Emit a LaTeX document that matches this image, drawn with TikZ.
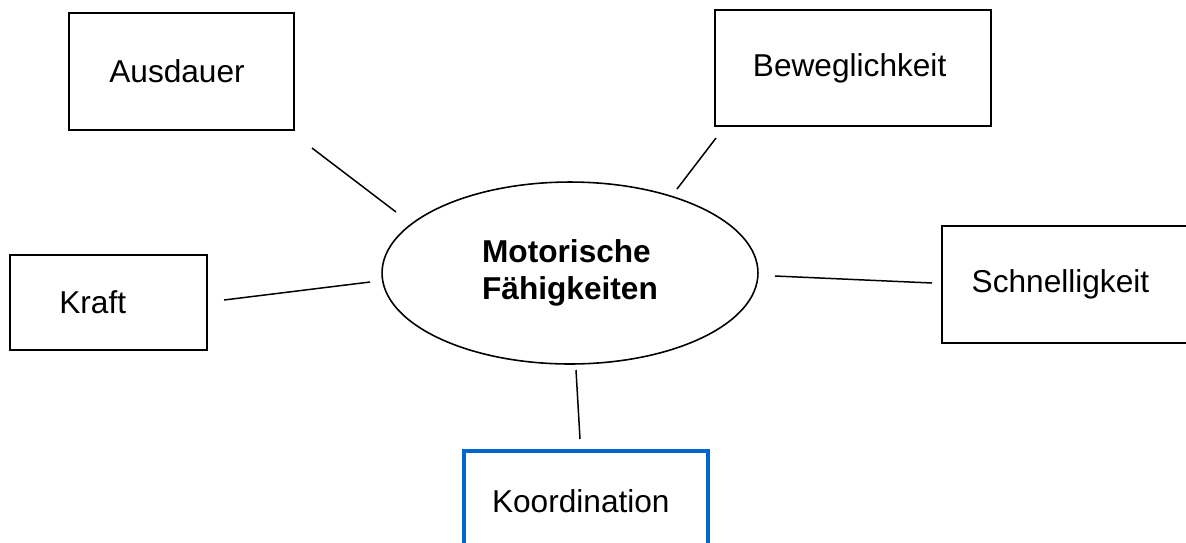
\documentclass[tikz,border=0pt]{standalone}
\usepackage{fontspec}
\setmainfont{Liberation Sans}
\usetikzlibrary{positioning,shapes.geometric}
\definecolor{rahmenblau}{RGB}{0,102,204}

\begin{document}
\begin{tikzpicture}[
  x=0.02cm,y=-0.02cm,
  every node/.style={font=\fontsize{18pt}{21pt}\selectfont},
  feld/.style={rectangle,draw,line width=1.1pt,align=left},
  blaufeld/.style={feld,draw=rahmenblau,line width=2.2pt},
  mitte/.style={ellipse,draw,line width=0.9pt,minimum width=7.52cm,minimum height=3.64cm,align=left,font=\fontsize{18pt}{21pt}\selectfont\bfseries},
  linie/.style={line width=0.85pt}
]
\clip (0,0) rectangle (1186,542);
\node[mitte] (mf) at (570,273) {Motorische\\Fähigkeiten};
\node[feld,left=3.46cm of mf,yshift=-0.59cm,text width=1.98cm,inner xsep=0.98cm,minimum height=1.9cm] (kraft) {Kraft};
\node[feld,above=2.46cm of kraft,xshift=1.46cm,text width=2.9cm,inner xsep=0.8cm,minimum height=2.34cm] (ausdauer) {Ausdauer};
\node[feld,above=1.08cm of mf,xshift=5.66cm,text width=4.0cm,inner xsep=0.76cm,minimum height=2.32cm] (beweg) {Beweglichkeit};
\node[feld,right=3.64cm of mf,yshift=-0.23cm,text width=3.9cm,inner xsep=0.6cm,minimum height=2.34cm] (schnell) {Schnelligkeit};
\node[blaufeld,below=1.68cm of mf,xshift=0.32cm,text width=3.76cm,inner xsep=0.56cm,minimum height=2.04cm] (koord) {Koordination};
\coordinate (a1) at (312,148);
\coordinate (a2) at (396,212);
\coordinate (b1) at (716,138);
\coordinate (b2) at (677,189);
\coordinate (k1) at (224,300);
\coordinate (k2) at (370,282);
\coordinate (s1) at (775,276);
\coordinate (s2) at (932,283);
\coordinate (ko1) at (576,370);
\coordinate (ko2) at (580,439);
\draw[linie] (a1) -- (a2);
\draw[linie] (b1) -- (b2);
\draw[linie] (k1) -- (k2);
\draw[linie] (s1) -- (s2);
\draw[linie] (ko1) -- (ko2);
\end{tikzpicture}
\end{document}
